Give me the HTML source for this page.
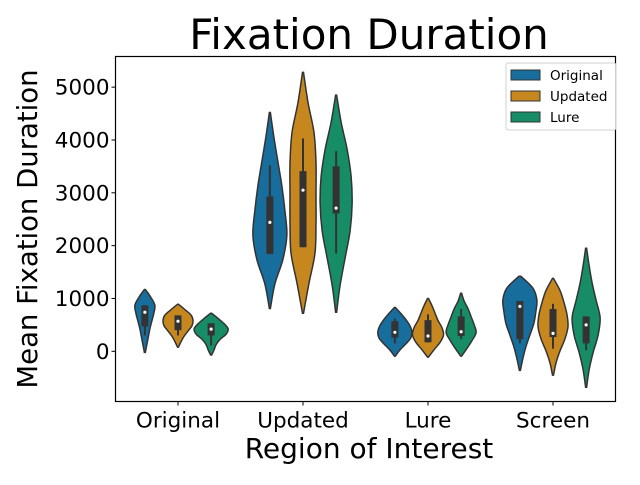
<!DOCTYPE html>
<html><head><meta charset="utf-8"><style>
body{margin:0;background:#fff;}
svg{font-family:"DejaVu Sans","Liberation Sans",sans-serif;}
</style></head><body>
<svg id="chart" width="640" height="480" viewBox="0 0 640 480">
<rect width="640" height="480" fill="#fff"/>
<text x="369" y="49" font-size="42" text-anchor="middle">Fixation Duration</text>
<text x="369" y="458" font-size="28" text-anchor="middle">Region of Interest</text>
<text transform="translate(37,229) rotate(-90)" font-size="27.5" text-anchor="middle">Mean Fixation Duration</text>
<g id="plot"></g>
<rect x="115.5" y="56.5" width="500" height="345" fill="none" stroke="#000" stroke-width="1.2"/>
<g>
<rect x="506" y="63" width="110" height="67" rx="2" fill="#fff" stroke="#ccc" opacity="0.9"/>
<rect x="511" y="70" width="29" height="10" fill="#176d9c" stroke="#333"/>
<text x="550" y="80" font-size="13.5">Original</text>
<rect x="511" y="91" width="29" height="10" fill="#c6871f" stroke="#333"/>
<text x="550" y="101" font-size="13.5">Updated</text>
<rect x="511" y="112" width="29" height="10" fill="#168d67" stroke="#333"/>
<text x="550" y="122" font-size="13.5">Lure</text>
</g>
</svg>
<script>
const categories = ["Original","Updated","Lure","Screen"];
const hues = ["Original","Updated","Lure"];
const yTicks = [0,1000,2000,3000,4000,5000];
// [min, max] per violin (category-major, hue-minor)
const ranges = [[-20,1170],[80,890],[-70,720],[810,4520],[720,5280],[740,4850],[-90,830],[-110,1000],[-90,1100],[-360,1420],[-450,1380],[-680,1950]];
// density profiles bottom->top
const densities = [
[0.5,2,3.5,5,7,9,10,6,0.5],[0.5,3,6,10,14,15,13,7,0.5],[0.5,3,5,9,15,17,13,7,0.5],
[0.5,5,13,17,15,12,8,4,0.5],[0.5,6,12,13,13,13,11,5,0.5],[0.5,4,9,14,16,15,11,5,0.5],
[0.5,5,11,16,17,15,11,6,0.5],[0.5,6,12,15.5,14,10,7,4,0.5],[0.5,6,11,15,13,10,7,3,0.5],
[0.5,3,6,10,14,16,17,13,1],[0.5,3,7,12,15,14,11,7,0.5],[0.5,3,7,12,14,10,6,3,0.5]];
// [whiskerLow, q1, median, q3, whiskerHigh]
const boxes = [[300,470,740,870,870],[300,400,570,680,680],[110,300,420,530,530],
[1840,1840,2440,2930,3520],[1970,1970,3050,3410,4030],[1850,2610,2710,3500,3790],
[150,260,360,570,620],[170,170,290,590,700],[230,290,370,660,800],
[150,230,850,950,950],[50,270,340,800,900],[20,150,500,660,660]];
const colors = ["#176d9c","#c6871f","#168d67"];
const NS="http://www.w3.org/2000/svg";
const L=115.5,R=615.5,T=56.5,B=401.5;
const yMin=-950, yMax=5580;
function ys(v){return B-(v-yMin)/(yMax-yMin)*(B-T);}
const band=(R-L)/categories.length;
function xc(ci){return L+band*(ci+0.5);}
function xh(ci,hi){return xc(ci)+(hi-1)*band*0.265;}
const plot=document.getElementById('plot');
function mk(tag,attrs,parent){const e=document.createElementNS(NS,tag);for(const k in attrs)e.setAttribute(k,attrs[k]);(parent||plot).appendChild(e);return e;}
yTicks.forEach(t=>{const y=ys(t);
 const tk=mk('line',{x1:L-4,x2:L,y1:y,y2:y,stroke:'#000'});
 
 
 const tx=mk('text',{x:L-6,y:y+7.5,'font-size':21.5,'text-anchor':'end'});tx.textContent=t;
 
 
});
categories.forEach((c,ci)=>{const x=xc(ci);
 const tk=mk('line',{x1:x,x2:x,y1:B,y2:B+4,stroke:'#000'});
 
 
 const tx=mk('text',{x:x,y:B+26,'font-size':21.5,'text-anchor':'middle'});tx.textContent=c;
 
 
});
function spline(pts){
 let d='M'+pts[0][0]+','+pts[0][1];
 for(let i=0;i<pts.length-1;i++){const p0=pts[Math.max(0,i-1)],p1=pts[i],p2=pts[i+1],p3=pts[Math.min(pts.length-1,i+2)];
  d+=' C'+(p1[0]+(p2[0]-p0[0])/6)+','+(p1[1]+(p2[1]-p0[1])/6)+' '+(p2[0]-(p3[0]-p1[0])/6)+','+(p2[1]-(p3[1]-p1[1])/6)+' '+p2[0]+','+p2[1];}
 return d;}
categories.forEach((c,ci)=>hues.forEach((h,hi)=>{
 const k=ci*3+hi, cx=xh(ci,hi), [lo,hi2]=ranges[k], dens=densities[k], n=dens.length;
 const right=[],left=[];
 for(let i=0;i<n;i++){const v=lo+(hi2-lo)*i/(n-1);right.push([cx+dens[i],ys(v)]);}
 for(let i=n-1;i>=0;i--){const v=lo+(hi2-lo)*i/(n-1);left.push([cx-dens[i],ys(v)]);}
 const p=mk('path',{d:spline(right)+' L'+left[0][0]+','+left[0][1]+spline(left).replace(/^M[^ ]+/,'')+' Z',fill:colors[hi],stroke:'#333','stroke-width':1.5});
 
 
 const b=boxes[k];
 const w=mk('line',{x1:cx,x2:cx,y1:ys(b[0]),y2:ys(b[4]),stroke:'#333','stroke-width':2});
 
 
 const bx=mk('rect',{x:cx-3.5,width:7,y:ys(b[3]),height:ys(b[1])-ys(b[3]),fill:'#333'});
 
 
 const m=mk('circle',{cx:cx,cy:ys(b[2]),r:1.6,fill:'#fff'});
 
 
}));
</script>
</body></html>
